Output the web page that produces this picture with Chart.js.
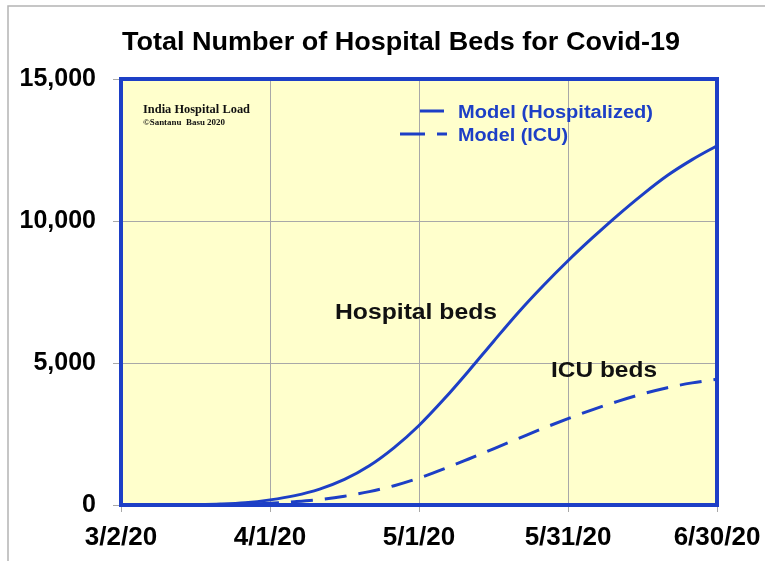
<!DOCTYPE html>
<html>
<head>
<meta charset="utf-8">
<script src="https://cdn.jsdelivr.net/npm/chart.js@4.4.1/dist/chart.umd.min.js"></script>
<style>
  html, body { margin: 0; padding: 0; background: #fff; }
  #wrap { width: 765px; height: 561px; }
</style>
</head>
<body>
<div id="wrap"><canvas id="bedsChart" width="765" height="561"></canvas></div>
<script>
// days since 3/2/20
const dias = [0, 5, 10, 15, 20, 25, 30, 35, 40, 45, 50, 55, 60, 65, 70, 75, 80, 85, 90, 95, 100, 105, 110, 115, 120];
const hospitalizados = [0, 2, 5, 15, 35, 80, 180, 330, 560, 900, 1380, 2020, 2800, 3720, 4720, 5760, 6780, 7720, 8600, 9420, 10200, 10930, 11600, 12160, 12650];
const uci = [0, 1, 2, 5, 12, 28, 60, 115, 190, 310, 470, 680, 950, 1270, 1620, 1980, 2340, 2700, 3040, 3360, 3650, 3910, 4130, 4300, 4430];
const fechas = ['3/2/20', '4/1/20', '5/1/20', '5/31/20', '6/30/20'];
const yTicks = [0, 5000, 10000, 15000];

const azul = '#1d3fc6';

// draws text squeezed/stretched to a given width
function textoAncho(ctx, txt, x, y, ancho) {
  const w = ctx.measureText(txt).width;
  ctx.save();
  ctx.translate(x, y);
  ctx.scale(ancho / w, 1);
  ctx.fillText(txt, 0, 0);
  ctx.restore();
}

const decoracion = {
  id: 'decoracion',
  beforeDraw(chart) {
    const { ctx, chartArea: a } = chart;
    ctx.save();
    ctx.fillStyle = '#fff';
    ctx.fillRect(0, 0, chart.width, chart.height);
    ctx.strokeStyle = '#b4b4b4';
    ctx.lineWidth = 1.5;
    ctx.beginPath();
    ctx.moveTo(8, chart.height);
    ctx.lineTo(8, 6);
    ctx.lineTo(chart.width, 6);
    ctx.stroke();
    ctx.fillStyle = '#ffffcc';
    ctx.fillRect(a.left, a.top, a.right - a.left, a.bottom - a.top);

    ctx.fillStyle = '#000';
    ctx.textBaseline = 'alphabetic';
    ctx.font = 'bold 26px "Liberation Sans", Arial, sans-serif';
    textoAncho(ctx, 'Total Number of Hospital Beds for Covid-19', 122, 50, 558);
    ctx.restore();
  },
  afterDatasetsDraw(chart) {
    const { ctx, chartArea: a } = chart;
    ctx.save();
    ctx.strokeStyle = azul;
    ctx.lineWidth = 4;
    ctx.strokeRect(a.left, a.top, a.right - a.left, a.bottom - a.top);

    ctx.fillStyle = '#111';
    ctx.font = 'bold 13px "Liberation Serif", "Times New Roman", serif';
    textoAncho(ctx, 'India Hospital Load', 143, 113, 107);
    ctx.font = 'bold 9px "Liberation Serif", "Times New Roman", serif';
    textoAncho(ctx, '\u00A9Santanu  Basu 2020', 143, 125, 82);

    // legend
    ctx.strokeStyle = azul;
    ctx.lineWidth = 3;
    ctx.beginPath();
    ctx.moveTo(420, 111); ctx.lineTo(444, 111);
    ctx.moveTo(400, 134); ctx.lineTo(425, 134);
    ctx.moveTo(437, 134); ctx.lineTo(447, 134);
    ctx.stroke();
    ctx.fillStyle = azul;
    ctx.font = 'bold 18px "Liberation Sans", Arial, sans-serif';
    textoAncho(ctx, 'Model (Hospitalized)', 458, 118, 195);
    textoAncho(ctx, 'Model (ICU)', 458, 141, 110);

    ctx.fillStyle = '#111';
    ctx.font = 'bold 22px "Liberation Sans", Arial, sans-serif';
    textoAncho(ctx, 'Hospital beds', 335, 319, 162);
    textoAncho(ctx, 'ICU beds', 551, 377, 106);
    ctx.restore();
  }
};

const puntos = vals => dias.map((d, i) => ({ x: d, y: vals[i] }));

new Chart(document.getElementById('bedsChart').getContext('2d'), {
  type: 'line',
  data: {
    datasets: [{
      label: 'Model (Hospitalized)',
      data: puntos(hospitalizados),
      borderColor: azul,
      borderWidth: 3,
      pointRadius: 0,
      cubicInterpolationMode: 'monotone',
      fill: false
    }, {
      label: 'Model (ICU)',
      data: puntos(uci),
      borderColor: azul,
      borderWidth: 3,
      borderDash: [22, 12],
      pointRadius: 0,
      cubicInterpolationMode: 'monotone',
      fill: false
    }]
  },
  options: {
    responsive: false,
    animation: false,
    layout: { padding: { left: 0, top: 79, right: 48, bottom: 0 } },
    plugins: {
      legend: { display: false },
      tooltip: { enabled: false },
      title: { display: false }
    },
    scales: {
      x: {
        type: 'linear',
        min: 0,
        max: 120,
        afterBuildTicks: s => { s.ticks = [0, 30, 60, 90, 120].map(v => ({ value: v })); },
        afterFit: s => { s.height = 56; s.paddingLeft = 0; s.paddingRight = 0; },
        border: { display: false },
        grid: { color: '#a8a8a8', lineWidth: 1, tickLength: 7 },
        ticks: {
          callback: (v, i) => fechas[i],
          color: '#000',
          padding: 10,
          maxRotation: 0,
          font: { family: '"Liberation Sans", Arial, sans-serif', size: 26, weight: 'bold' }
        }
      },
      y: {
        min: 0,
        max: 15000,
        afterBuildTicks: s => { s.ticks = yTicks.map(v => ({ value: v })); },
        afterFit: s => { s.width = 121; s.paddingTop = 0; s.paddingBottom = 0; },
        border: { display: false },
        grid: { color: '#a8a8a8', lineWidth: 1, tickLength: 8 },
        ticks: {
          callback: v => v.toLocaleString('en-US'),
          color: '#000',
          padding: 17,
          font: { family: '"Liberation Sans", Arial, sans-serif', size: 25, weight: 'bold' }
        }
      }
    }
  },
  plugins: [decoracion]
});
</script>
</body>
</html>
